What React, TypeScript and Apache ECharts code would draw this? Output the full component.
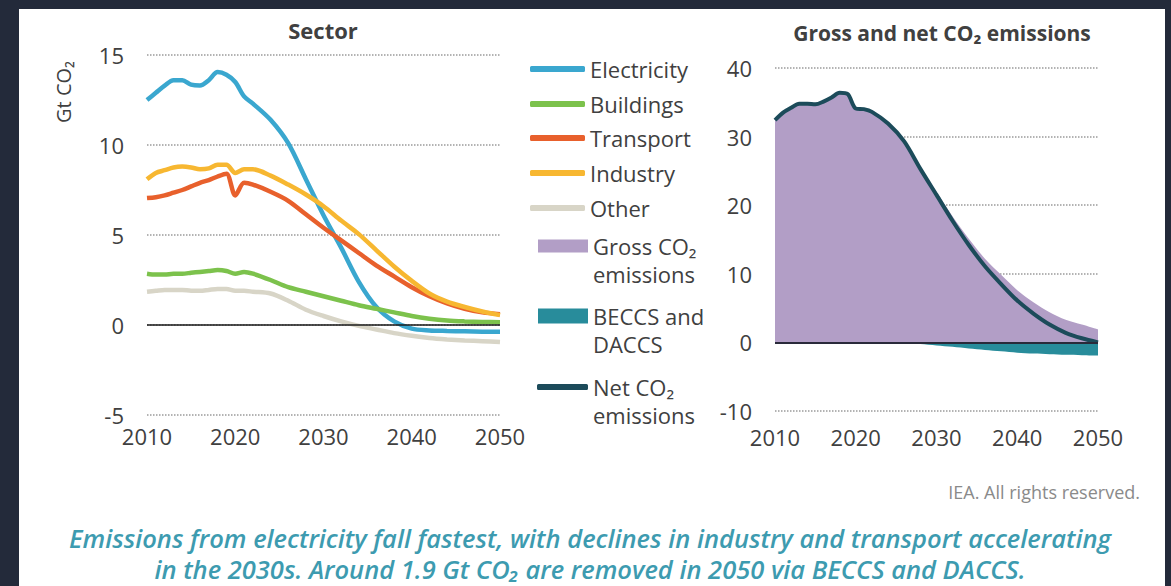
import React, { useEffect, useRef } from "react";
import * as echarts from "echarts";

const years = [2010, 2011, 2012, 2013, 2014, 2015, 2016, 2017, 2018, 2019, 2020, 2021, 2022, 2024, 2026, 2028, 2030, 2032, 2034, 2036, 2038, 2040, 2042, 2044, 2046, 2048, 2050];

const electricity = [12.5, 12.9, 13.3, 13.6, 13.6, 13.35, 13.3, 13.6, 14.05, 13.9, 13.5, 12.7, 12.3, 11.4, 10.1, 8.1, 6.1, 4.3, 2.4, 1.0, 0.2, -0.2, -0.3, -0.33, -0.35, -0.37, -0.38];
const buildings = [2.85, 2.8, 2.8, 2.85, 2.85, 2.9, 2.95, 3.0, 3.05, 3.0, 2.85, 2.95, 2.85, 2.5, 2.1, 1.85, 1.6, 1.35, 1.1, 0.9, 0.7, 0.5, 0.35, 0.25, 0.2, 0.17, 0.15];
const transport = [7.05, 7.1, 7.2, 7.35, 7.5, 7.7, 7.9, 8.05, 8.25, 8.4, 7.2, 7.9, 7.8, 7.4, 6.9, 6.15, 5.4, 4.7, 4.0, 3.3, 2.7, 2.1, 1.6, 1.2, 0.9, 0.7, 0.6];
const industry = [8.1, 8.45, 8.6, 8.75, 8.8, 8.75, 8.65, 8.7, 8.9, 8.9, 8.45, 8.65, 8.65, 8.3, 7.8, 7.25, 6.6, 5.8, 5.05, 4.15, 3.25, 2.45, 1.75, 1.3, 1.0, 0.75, 0.55];
const other = [1.85, 1.9, 1.95, 1.95, 1.95, 1.9, 1.9, 1.95, 2.0, 2.0, 1.9, 1.9, 1.85, 1.75, 1.35, 0.85, 0.5, 0.2, -0.05, -0.25, -0.45, -0.6, -0.72, -0.8, -0.86, -0.9, -0.95];

const grossCO2 = [32.4, 33.5, 34.2, 34.8, 34.8, 34.7, 35.1, 35.7, 36.4, 36.2, 34.1, 34.0, 33.6, 31.95, 29.4, 25.55, 21.95, 18.35, 15.1, 12.2, 9.85, 7.6, 5.85, 4.4, 3.3, 2.6, 1.9];
const beccsDaccs = [0, 0, 0, 0, 0, 0, 0, 0, 0, 0, 0, 0, 0, -0.05, -0.12, -0.25, -0.45, -0.65, -0.9, -1.1, -1.3, -1.5, -1.62, -1.72, -1.8, -1.86, -1.9];
const netCO2 = [32.4, 33.5, 34.2, 34.8, 34.8, 34.7, 35.1, 35.7, 36.4, 36.2, 34.1, 34.0, 33.6, 31.9, 29.3, 25.3, 21.5, 17.7, 14.2, 11.1, 8.5, 6.1, 4.2, 2.6, 1.4, 0.6, 0.0];

const sectorTicks = { min: -5, max: 15, interval: 5 };
const totalTicks = { min: -10, max: 40, interval: 10 };
const yearTicks = { min: 2010, max: 2050, interval: 10 };

const FONT = "'Open Sans', sans-serif";
const TXT = "#404040";

const COLORS = {
  electricity: "#3aa7cf",
  buildings: "#7cc24c",
  transport: "#e8602c",
  industry: "#f7b731",
  other: "#d8d5c7",
  gross: "#b29ec6",
  removal: "#288c9b",
  net: "#1c4b5a",
};

export default function App() {
  const ref = useRef<HTMLDivElement>(null);
  useEffect(() => {
    const chart = echarts.init(ref.current as HTMLDivElement, null, { renderer: "svg" });
    const pair = (vals: number[]) => years.map((y, i) => [y, vals[i]]);

    const xAxisBase = (grid: number, margin: number) => ({
      gridIndex: grid,
      type: "value",
      ...yearTicks,
      axisLine: { show: false },
      axisTick: { show: false },
      splitLine: { show: false },
      axisLabel: { fontSize: 22, color: TXT, fontFamily: FONT, margin, formatter: (v: number) => String(v) },
    });
    const yAxisBase = (grid: number, ticks: any) => ({
      gridIndex: grid,
      type: "value",
      ...ticks,
      axisLine: { show: false },
      axisTick: { show: false },
      splitLine: { show: true, lineStyle: { type: "dotted", color: "#9a9a9a", width: 1.5 } },
      axisLabel: { fontSize: 22, color: TXT, fontFamily: FONT, margin: 23 },
    });

    const lineSeries = (name: string, vals: number[], color: string, extra: any = {}) => ({
      name,
      type: "line",
      xAxisIndex: 0,
      yAxisIndex: 0,
      data: pair(vals),
      symbol: "none",
      showSymbol: false,
      smooth: 0.3,
      color,
      lineStyle: { width: 4.5, color },
      ...extra,
    });

    const legendText = { fontSize: 22, color: TXT, fontFamily: FONT, lineHeight: 28 };
    const lineLegend = (name: string, left: number, top: number, width = 55) => ({
      left,
      top,
      padding: 0,
      selectedMode: false,
      itemWidth: width,
      itemHeight: 6,
      itemStyle: { borderWidth: 0 },
      textStyle: legendText,
      data: [{ name, icon: "roundRect" }],
    });
    // leading blank line so that the first text line sits level with the icon
    const twoLineLegend = (name: string, left: number, top: number, icon: string, width: number, height: number, text: string) => ({
      left,
      top,
      padding: 0,
      selectedMode: false,
      itemWidth: width,
      itemHeight: height,
      itemStyle: { borderWidth: 0 },
      textStyle: legendText,
      formatter: () => "\n" + text,
      data: [{ name, icon }],
    });

    const zeroLine = (color: string, width: number) => ({
      silent: true,
      symbol: ["none", "none"],
      label: { show: false },
      lineStyle: { color, width, type: "solid" },
      data: [{ yAxis: 0 }],
    });

    chart.setOption({
      animation: false,
      textStyle: { fontFamily: FONT },
      grid: [
        { left: 147, top: 55, width: 353, height: 360 },
        { left: 775, top: 68, width: 323, height: 343 },
      ],
      xAxis: [xAxisBase(0, 10), xAxisBase(1, 15)],
      yAxis: [yAxisBase(0, sectorTicks), yAxisBase(1, totalTicks)],
      legend: [
        lineLegend("Electricity", 530, 55),
        lineLegend("Buildings", 530, 90),
        lineLegend("Transport", 530, 124),
        lineLegend("Industry", 530, 159),
        lineLegend("Other", 530, 194),
        twoLineLegend("Gross CO₂ emissions", 538, 204, "rect", 50, 13, "Gross CO₂\nemissions"),
        twoLineLegend("BECCS and DACCS", 538, 274, "rect", 50, 15, "BECCS and\nDACCS"),
        twoLineLegend("Net CO₂ emissions", 537, 345, "roundRect", 51, 6, "Net CO₂\nemissions"),
      ],
      graphic: [
        { type: "text", x: 323, y: 30, style: { text: "Sector", fill: TXT, font: `bold 22px ${FONT}`, textAlign: "center", textVerticalAlign: "middle" } },
        { type: "text", x: 942, y: 33, style: { text: "Gross and net CO₂ emissions", fill: TXT, font: `bold 21px ${FONT}`, textAlign: "center", textVerticalAlign: "middle" } },
        { type: "text", x: 63, y: 92, rotation: Math.PI / 2, style: { text: "Gt CO₂", fill: TXT, font: `20px ${FONT}`, textAlign: "center", textVerticalAlign: "middle" } },
        { type: "text", x: 1140, y: 492, style: { text: "IEA. All rights reserved.", fill: "#8a8a8a", font: `18px ${FONT}`, textAlign: "right", textVerticalAlign: "middle" } },
        { type: "text", x: 590, y: 538, style: { text: "Emissions from electricity fall fastest, with declines in industry and transport accelerating", fill: "#3d9bb0", font: `italic 600 25.5px ${FONT}`, textAlign: "center", textVerticalAlign: "middle" } },
        { type: "text", x: 590, y: 569, style: { text: "in the 2030s. Around 1.9 Gt CO₂ are removed in 2050 via BECCS and DACCS.", fill: "#3d9bb0", font: `italic 600 25.5px ${FONT}`, textAlign: "center", textVerticalAlign: "middle" } },
      ],
      series: [
        lineSeries("Electricity", electricity, COLORS.electricity, { markLine: zeroLine("#1a1a1a", 1.5) }),
        lineSeries("Buildings", buildings, COLORS.buildings),
        lineSeries("Transport", transport, COLORS.transport),
        lineSeries("Industry", industry, COLORS.industry),
        lineSeries("Other", other, COLORS.other),
        {
          name: "Gross CO₂ emissions",
          type: "line",
          xAxisIndex: 1,
          yAxisIndex: 1,
          data: pair(grossCO2),
          symbol: "none",
          showSymbol: false,
          smooth: 0.3,
          color: COLORS.gross,
          lineStyle: { width: 0 },
          areaStyle: { color: COLORS.gross, opacity: 1 },
        },
        {
          name: "BECCS and DACCS",
          type: "line",
          xAxisIndex: 1,
          yAxisIndex: 1,
          data: pair(beccsDaccs),
          symbol: "none",
          showSymbol: false,
          smooth: 0.3,
          color: COLORS.removal,
          lineStyle: { width: 0 },
          areaStyle: { color: COLORS.removal, opacity: 1 },
        },
        {
          name: "Net CO₂ emissions",
          type: "line",
          xAxisIndex: 1,
          yAxisIndex: 1,
          data: pair(netCO2),
          symbol: "none",
          showSymbol: false,
          smooth: 0.3,
          color: COLORS.net,
          lineStyle: { width: 4, color: COLORS.net },
          markLine: zeroLine("#2a2a3a", 2),
        },
      ],
    });
    return () => chart.dispose();
  }, []);

  return (
    <div style={{ position: "fixed", left: 0, top: 0, width: 1171, height: 586, background: "#232a3a" }}>
      <div style={{ position: "absolute", left: 19, top: 9, width: 1146, height: 577, background: "#ffffff" }} />
      <div ref={ref} style={{ position: "absolute", left: 0, top: 0, width: 1171, height: 586 }} />
    </div>
  );
}
